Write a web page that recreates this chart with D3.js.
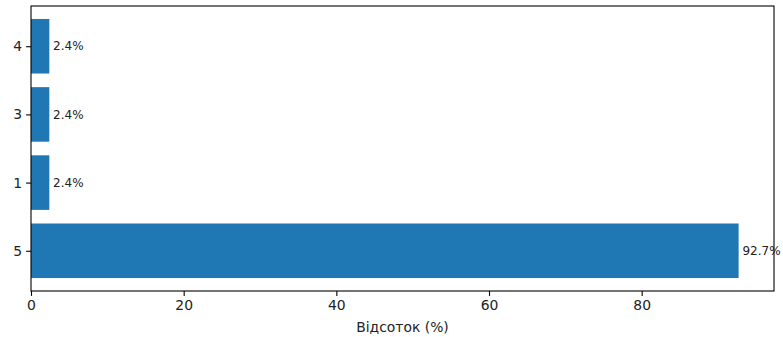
<!DOCTYPE html>
<html><head><meta charset="utf-8">
<script src="https://cdn.jsdelivr.net/npm/d3@7"></script>
<style>body{margin:0;background:#fff}svg{display:block}text{font-family:"DejaVu Sans",sans-serif}</style>
</head><body><svg id="c" width="783" height="337"></svg>
<script>
const categories = ["5", "1", "3", "4"];
const values = [92.7, 2.4, 2.4, 2.4];
const xTicks = [0, 20, 40, 60, 80];
const xLabel = "Відсоток (%)";

const svg = d3.select("#c");
const L = 31, R = 774, T = 6, B = 291;
const x = d3.scaleLinear().domain([0, d3.max(values) * 1.05]).range([L, R]);
const y = d3.scaleLinear().domain([-0.59, categories.length - 1 + 0.59]).range([B, T]);
const bh = 0.8;

svg.selectAll("rect.bar").data(values).join("rect").attr("class", "bar")
  .attr("x", x(0)).attr("width", d => x(d) - x(0))
  .attr("y", (d, i) => y(i + bh / 2)).attr("height", y(0) - y(bh))
  .attr("fill", "#1f77b4");

svg.selectAll("text.lbl").data(values).join("text").attr("class", "lbl")
  .attr("x", d => x(d) + 3.8).attr("y", (d, i) => y(i)).attr("dy", "0.35em")
  .attr("font-size", 12).attr("fill", "#222").text(d => d.toFixed(1) + "%");

const xa = svg.append("g").attr("transform", `translate(0,${B})`)
  .call(d3.axisBottom(x).tickValues(xTicks).tickSize(4.9).tickPadding(4).tickFormat(d3.format("d")));
const ya = svg.append("g").attr("transform", `translate(${L},0)`)
  .call(d3.axisLeft(y).tickValues(d3.range(categories.length)).tickSize(4.9).tickPadding(4).tickFormat(i => categories[i]));
[xa, ya].forEach(g => {
  g.select(".domain").remove();
  g.selectAll("line").attr("stroke", "#000").attr("stroke-width", 1.1);
  g.selectAll("text").attr("font-size", 13.9).attr("fill", "#222").attr("font-family", "DejaVu Sans");
});
svg.append("rect").attr("x", L).attr("y", T).attr("width", R - L).attr("height", B - T)
  .attr("fill", "none").attr("stroke", "#000").attr("stroke-width", 1.1);
svg.append("text").attr("x", (L + R) / 2).attr("y", 332).attr("text-anchor", "middle")
  .attr("font-size", 13.9).attr("fill", "#222").text(xLabel);
</script></body></html>
